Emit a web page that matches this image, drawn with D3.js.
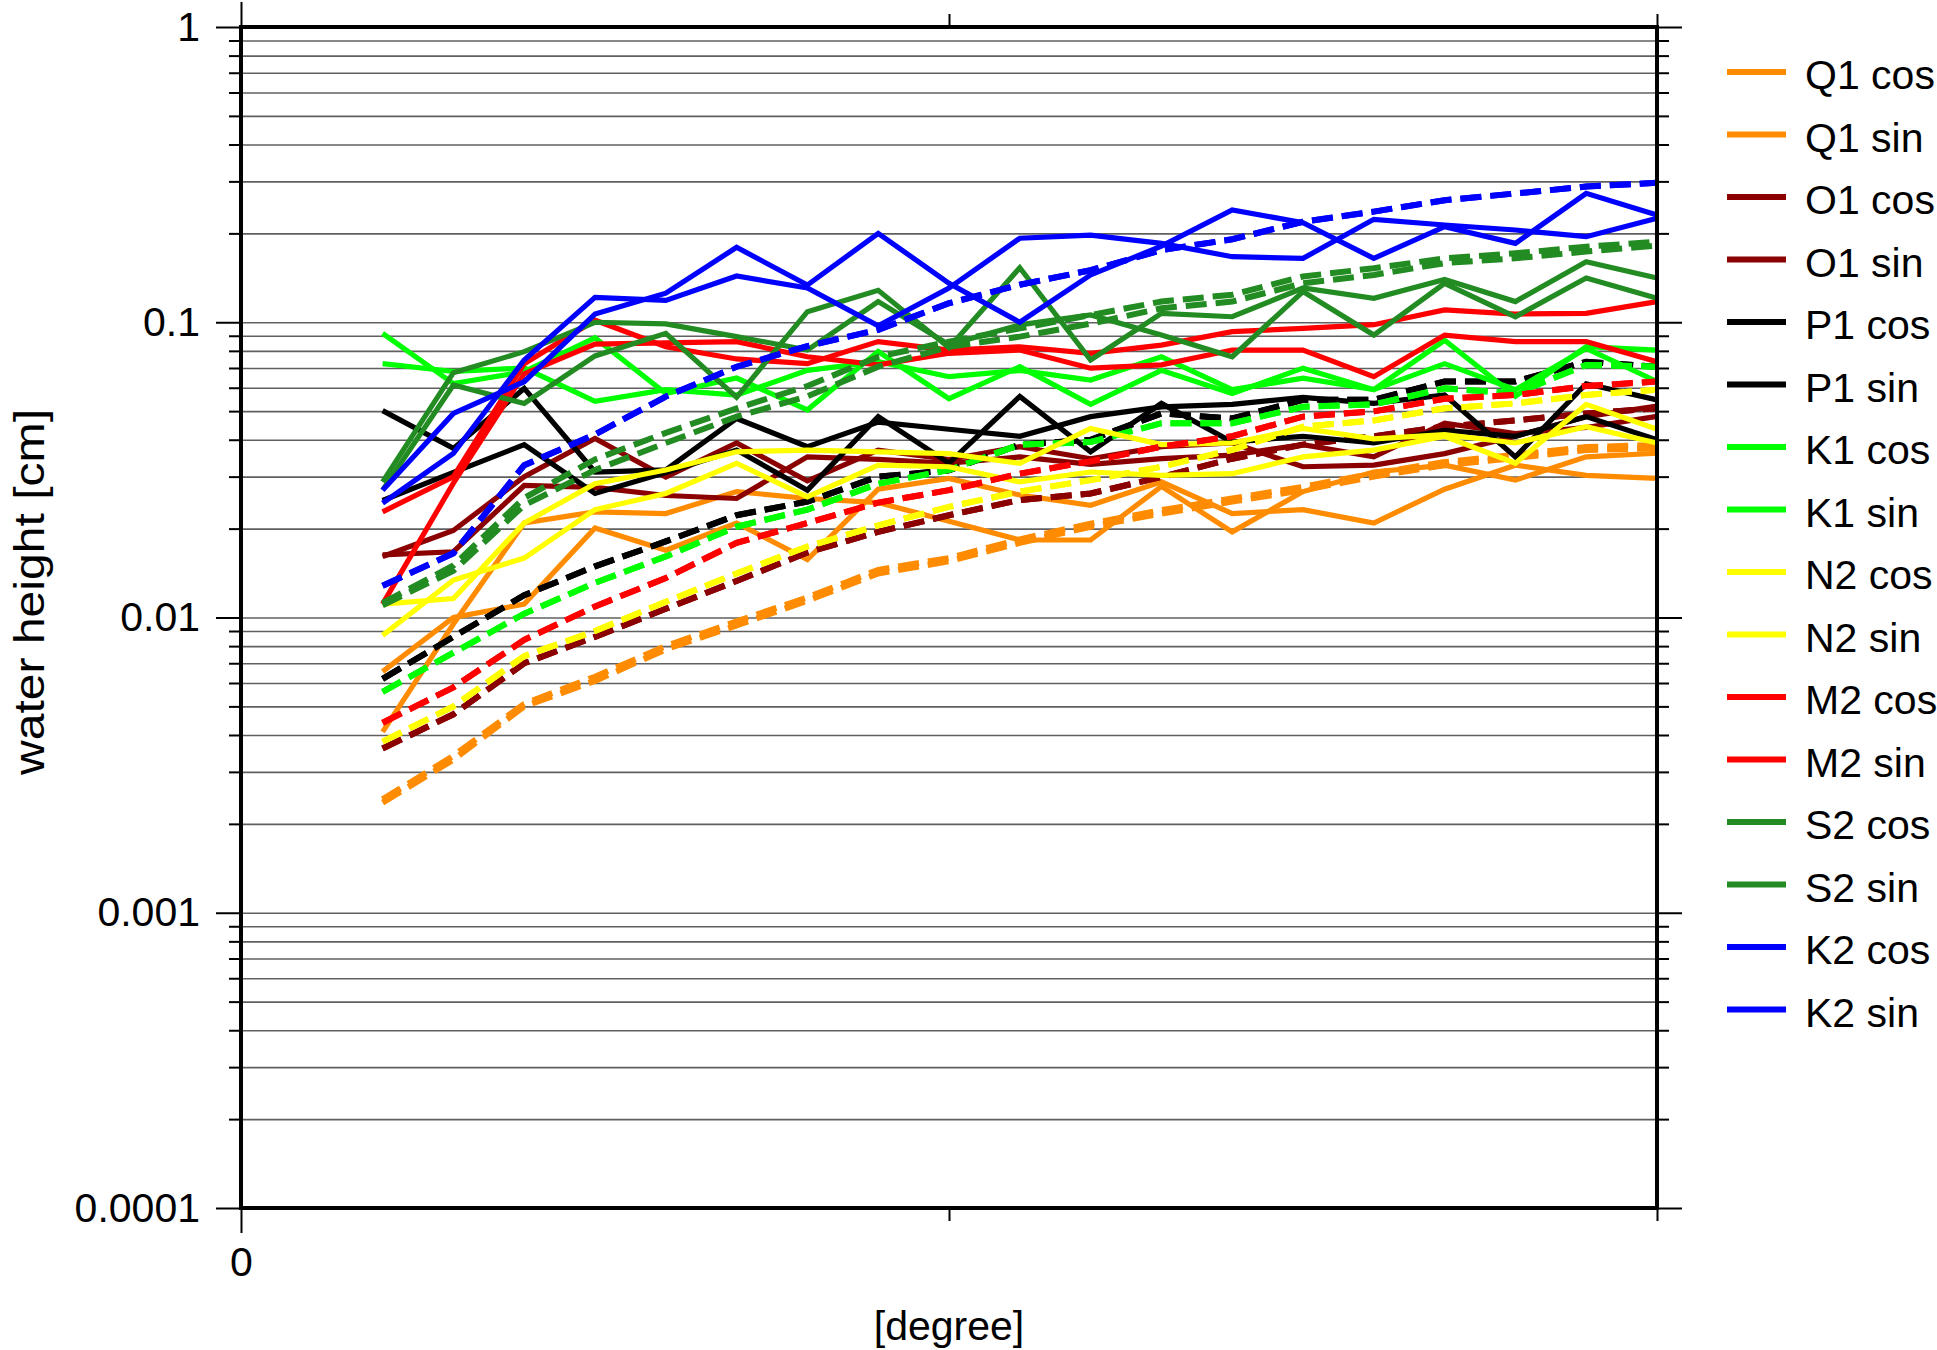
<!DOCTYPE html>
<html>
<head>
<meta charset="utf-8">
<script src="https://cdn.jsdelivr.net/npm/d3@7"></script>
<style>
	body {margin: 0; background: #fff}
	text {font-family: "Liberation Sans", Arial, sans-serif}
</style>
</head>
<body>
<svg width="1937" height="1350"></svg>
<script>
'use strict';
// values, one per degree
const degrees = [2, 3, 4, 5, 6, 7, 8, 9, 10, 11, 12, 13, 14, 15, 16, 17, 18, 19, 20]

const q1Cos = [0.00656, 0.0100, 0.0111, 0.0201, 0.0169, 0.0209, 0.0157, 0.0272, 0.0296, 0.0260, 0.0240, 0.0288, 0.0225, 0.0232, 0.0209, 0.0272, 0.0328, 0.0303, 0.0296]
const q1Sin = [0.0041, 0.0095, 0.0209, 0.0228, 0.0225, 0.0267, 0.0253, 0.0245, 0.0212, 0.0183, 0.0183, 0.0278, 0.0195, 0.0267, 0.0311, 0.0328, 0.0292, 0.0350, 0.0360]
const o1Cos = [0.0161, 0.0197, 0.0300, 0.0404, 0.0299, 0.0390, 0.0290, 0.0369, 0.0343, 0.0379, 0.0345, 0.0379, 0.0390, 0.0324, 0.0328, 0.0359, 0.0411, 0.0479, 0.0520]
const o1Sin = [0.0163, 0.0167, 0.0280, 0.0276, 0.0259, 0.0253, 0.0350, 0.0343, 0.0333, 0.0350, 0.0330, 0.0345, 0.0355, 0.0385, 0.0350, 0.0455, 0.0420, 0.0440, 0.0480]
const p1Cos = [0.0502, 0.0374, 0.0597, 0.0311, 0.0316, 0.0472, 0.0379, 0.0459, 0.0434, 0.0411, 0.0479, 0.0517, 0.0527, 0.0557, 0.0531, 0.0567, 0.0350, 0.0619, 0.0546]
const p1Sin = [0.0249, 0.0310, 0.0385, 0.0263, 0.0310, 0.0369, 0.0270, 0.0479, 0.0333, 0.0561, 0.0364, 0.0531, 0.0393, 0.0411, 0.0390, 0.0430, 0.0411, 0.0479, 0.0400]
const k1Cos = [0.0917, 0.0620, 0.0680, 0.0885, 0.0574, 0.0647, 0.0505, 0.0796, 0.0551, 0.0707, 0.0527, 0.0687, 0.0574, 0.0699, 0.0591, 0.0869, 0.0561, 0.0826, 0.0805]
const k1Sin = [0.0724, 0.0681, 0.0700, 0.0540, 0.0591, 0.0567, 0.0687, 0.0735, 0.0654, 0.0687, 0.0637, 0.0764, 0.0591, 0.0647, 0.0591, 0.0724, 0.0591, 0.0815, 0.0630]
const n2Cos = [0.0111, 0.0116, 0.0209, 0.0284, 0.0316, 0.0364, 0.0369, 0.0364, 0.0359, 0.0333, 0.0437, 0.0385, 0.0390, 0.0437, 0.0403, 0.0416, 0.0390, 0.0443, 0.0390]
const n2Sin = [0.0087, 0.0134, 0.0159, 0.0232, 0.0263, 0.0333, 0.0256, 0.0328, 0.0324, 0.0288, 0.0311, 0.0303, 0.0307, 0.0350, 0.0369, 0.0411, 0.0333, 0.0527, 0.0434]
const m2Cos = [0.0228, 0.0300, 0.0724, 0.1016, 0.0826, 0.0751, 0.0724, 0.0860, 0.0805, 0.0826, 0.0785, 0.0837, 0.0929, 0.0953, 0.0981, 0.1101, 0.1066, 0.1072, 0.1175]
const m2Sin = [0.0111, 0.0285, 0.0669, 0.0843, 0.0852, 0.0860, 0.0764, 0.0717, 0.0785, 0.0805, 0.0699, 0.0717, 0.0805, 0.0805, 0.0654, 0.0905, 0.0860, 0.0860, 0.0735]
const s2Cos = [0.0288, 0.0675, 0.0795, 0.1000, 0.0987, 0.0894, 0.0805, 0.1175, 0.0840, 0.0980, 0.1058, 0.0905, 0.0764, 0.1270, 0.0905, 0.1355, 0.1044, 0.1413, 0.1206]
const s2Sin = [0.0270, 0.0613, 0.0531, 0.0769, 0.0917, 0.0557, 0.1086, 0.1283, 0.0820, 0.1530, 0.0745, 0.1072, 0.1044, 0.1306, 0.1206, 0.1395, 0.1175, 0.1603, 0.1413]
const k2Cos = [0.0270, 0.0491, 0.0629, 0.1066, 0.1254, 0.1794, 0.1337, 0.2000, 0.1355, 0.1000, 0.1446, 0.1810, 0.2400, 0.2174, 0.1646, 0.2107, 0.1850, 0.2733, 0.2308]
const k2Sin = [0.0244, 0.0360, 0.0745, 0.1215, 0.1186, 0.1434, 0.1306, 0.0973, 0.1306, 0.1925, 0.1974, 0.1850, 0.1667, 0.1646, 0.2232, 0.2135, 0.2053, 0.1949, 0.2249]

// smooth (dashed) curves, mostly identical for cos and sin
const errQ1Cos = [0.00236, 0.0033, 0.0050, 0.0061, 0.0078, 0.0094, 0.0114, 0.0141, 0.0155, 0.0179, 0.0203, 0.0225, 0.0247, 0.0270, 0.0300, 0.0328, 0.0347, 0.0369, 0.0374]
const errQ1Sin = [0.00242, 0.0034, 0.0051, 0.0063, 0.0080, 0.0097, 0.0117, 0.0145, 0.0159, 0.0184, 0.0208, 0.0231, 0.0253, 0.0277, 0.0308, 0.0336, 0.0356, 0.0378, 0.0384]
const errO1 = [0.0036, 0.0047, 0.0070, 0.0086, 0.0107, 0.0133, 0.0166, 0.0195, 0.0222, 0.0250, 0.0263, 0.0299, 0.0345, 0.0385, 0.0411, 0.0443, 0.0465, 0.0491, 0.0511]
const errP1 = [0.0062, 0.0086, 0.0119, 0.0149, 0.0181, 0.0222, 0.0247, 0.0300, 0.0315, 0.0385, 0.0400, 0.0491, 0.0472, 0.0546, 0.0546, 0.0630, 0.0630, 0.0735, 0.0707]
const errK1 = [0.0056, 0.0076, 0.0103, 0.0131, 0.0161, 0.0203, 0.0232, 0.0284, 0.0316, 0.0385, 0.0393, 0.0455, 0.0455, 0.0517, 0.0527, 0.0597, 0.0574, 0.0717, 0.0707]
const errN2 = [0.0038, 0.0050, 0.0074, 0.0090, 0.0113, 0.0141, 0.0174, 0.0205, 0.0237, 0.0267, 0.0292, 0.0324, 0.0370, 0.0443, 0.0465, 0.0511, 0.0531, 0.0567, 0.0591]
const errM2 = [0.0044, 0.0058, 0.0084, 0.0109, 0.0136, 0.0179, 0.0209, 0.0245, 0.0270, 0.0307, 0.0338, 0.0379, 0.0411, 0.0479, 0.0499, 0.0551, 0.0567, 0.0608, 0.0630]
const errS2Cos = [0.0112, 0.0150, 0.0254, 0.0343, 0.0422, 0.0511, 0.0608, 0.0764, 0.0860, 0.0953, 0.1058, 0.1175, 0.1240, 0.1429, 0.1524, 0.1646, 0.1712, 0.1802, 0.1874]
const errS2Sin = [0.0110, 0.0144, 0.0240, 0.0316, 0.0390, 0.0479, 0.0561, 0.0707, 0.0826, 0.0894, 0.0989, 0.1115, 0.1175, 0.1355, 0.1446, 0.1586, 0.1646, 0.1735, 0.1818]
const errK2 = [0.0128, 0.0165, 0.0328, 0.0417, 0.0560, 0.0707, 0.0830, 0.0943, 0.1160, 0.1340, 0.1500, 0.1755, 0.1910, 0.2190, 0.2370, 0.2590, 0.2730, 0.2880, 0.2970]

const names = ["Q1 cos", "Q1 sin", "O1 cos", "O1 sin", "P1 cos", "P1 sin", "K1 cos", "K1 sin",
	"N2 cos", "N2 sin", "M2 cos", "M2 sin", "S2 cos", "S2 sin", "K2 cos", "K2 sin"]
const colors = ["#ff8c00", "#ff8c00", "#8b0000", "#8b0000", "#000000", "#000000", "#00ff00", "#00ff00",
	"#ffff00", "#ffff00", "#ff0000", "#ff0000", "#228b22", "#228b22", "#0000ff", "#0000ff"]
const values = [q1Cos, q1Sin, o1Cos, o1Sin, p1Cos, p1Sin, k1Cos, k1Sin,
	n2Cos, n2Sin, m2Cos, m2Sin, s2Cos, s2Sin, k2Cos, k2Sin]
const errors = [errQ1Cos, errQ1Sin, errO1, errO1, errP1, errP1, errK1, errK1,
	errN2, errN2, errM2, errM2, errS2Cos, errS2Sin, errK2, errK2]

const yMajor = [1e-4, 1e-3, 1e-2, 1e-1, 1]
const yLabels = ["0.0001", "0.001", "0.01", "0.1", "1"]

let tSeries = names.map((n, i) => {return {name: n, color: colors[i], vals: values[i], errs: errors[i]}})

let eSvg = d3.select("svg")
const dLeft = 241, dRight = 1657, dTop = 27, dBottom = 1208
const sFont = "41px"

let x = d3.scaleLinear().domain([0, 20]).range([dLeft, dRight])
let y = d3.scaleLog().domain([1e-4, 1]).range([dBottom, dTop])
let yAll = y.ticks()
let yMinor = yAll.filter(d => {return yMajor.indexOf(d) < 0})

function styleAxis(g) {
	g.select(".domain").remove()
	g.selectAll("line").attr("stroke", "#000").attr("stroke-width", 2)
	g.selectAll("text").attr("font-size", sFont).attr("font-family", null).attr("fill", "#000")}

// gridlines
let eGrid = eSvg.append("g")
	.attr("transform", `translate(${dLeft},0)`)
	.call(d3.axisLeft(y).tickValues(yAll).tickSize(-(dRight - dLeft)).tickFormat(""))
eGrid.select(".domain").remove()
eGrid.selectAll("line").attr("stroke", "#606060").attr("stroke-width", 1.6)

// data lines, each with its dashed companion
let fLine = d3.line().x((d, i) => {return x(degrees[i])}).y(d => {return y(d)})
let eLines = eSvg.append("g").attr("fill", "none").attr("stroke-linejoin", "miter")
tSeries.forEach(s => {
	eLines.append("path").attr("d", fLine(s.vals))
		.attr("stroke", s.color).attr("stroke-width", 5.2)
	eLines.append("path").attr("d", fLine(s.errs))
		.attr("stroke", s.color).attr("stroke-width", 6).attr("stroke-dasharray", "21,9")})

// frame
eSvg.append("rect")
	.attr("x", dLeft).attr("y", dTop)
	.attr("width", dRight - dLeft).attr("height", dBottom - dTop)
	.attr("fill", "none").attr("stroke", "#000").attr("stroke-width", 4)

// y ticks, both sides
eSvg.append("g").attr("transform", `translate(${dLeft},0)`)
	.call(d3.axisLeft(y).tickValues(yMajor).tickSize(25).tickPadding(16)
		.tickFormat(d => {return yLabels[yMajor.indexOf(d)]}))
	.call(styleAxis)
eSvg.append("g").attr("transform", `translate(${dLeft},0)`)
	.call(d3.axisLeft(y).tickValues(yMinor).tickSize(12).tickFormat(""))
	.call(styleAxis)
eSvg.append("g").attr("transform", `translate(${dRight},0)`)
	.call(d3.axisRight(y).tickValues(yMajor).tickSize(25).tickFormat(""))
	.call(styleAxis)
eSvg.append("g").attr("transform", `translate(${dRight},0)`)
	.call(d3.axisRight(y).tickValues(yMinor).tickSize(12).tickFormat(""))
	.call(styleAxis)

// x ticks, only 0 is labelled
eSvg.append("g").attr("transform", `translate(0,${dBottom})`)
	.call(d3.axisBottom(x).tickValues([0]).tickSize(25).tickPadding(14).tickFormat(d => {return "0"}))
	.call(styleAxis)
eSvg.append("g").attr("transform", `translate(0,${dBottom})`)
	.call(d3.axisBottom(x).tickValues([10, 20]).tickSize(13).tickFormat(""))
	.call(styleAxis)
eSvg.append("g").attr("transform", `translate(0,${dTop})`)
	.call(d3.axisTop(x).tickValues([0]).tickSize(25).tickFormat(""))
	.call(styleAxis)
eSvg.append("g").attr("transform", `translate(0,${dTop})`)
	.call(d3.axisTop(x).tickValues([10, 20]).tickSize(13).tickFormat(""))
	.call(styleAxis)

// axis titles
eSvg.append("text")
	.attr("x", (dLeft + dRight) / 2).attr("y", 1340)
	.attr("text-anchor", "middle").attr("font-size", sFont)
	.text("[degree]")
eSvg.append("text")
	.attr("transform", "translate(44,592) rotate(-90)")
	.attr("text-anchor", "middle").attr("font-size", "43px")
	.attr("textLength", 366).attr("lengthAdjust", "spacingAndGlyphs")
	.text("water height [cm]")

// legend
let eLegend = eSvg.append("g").attr("class", "legend")
	.selectAll("g")
	.data(tSeries)
	.enter()
	.append("g")
	.attr("transform", (d, i) => {return `translate(1727,${72 + i * 62.5})`})
eLegend.append("line")
	.attr("x1", 0).attr("x2", 59)
	.attr("stroke", d => {return d.color}).attr("stroke-width", 6)
eLegend.append("text")
	.attr("x", 78).attr("dy", "0.42em")
	.attr("font-size", sFont)
	.text(d => {return d.name})
</script>
</body>
</html>
